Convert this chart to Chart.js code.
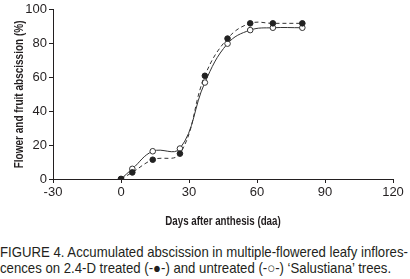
<!DOCTYPE html>
<html>
<head>
<meta charset="utf-8">
<script src="https://cdn.jsdelivr.net/npm/chart.js@4"></script>
<style>
  body { margin: 0; background: #fff; width: 410px; height: 279px; overflow: hidden; }
  #wrap { position: absolute; left: 0; top: 0; width: 410px; height: 235px; }
  #caption {
    position: absolute; left: 0; top: 245px;
    font-family: "Liberation Sans", Arial, sans-serif;
    font-size: 14.5px; line-height: 15.5px; color: #231f20; white-space: nowrap;
    transform-origin: 0 0;
  }
</style>
</head>
<body>
<div id="wrap"><canvas id="chart"></canvas></div>
<div id="caption">FIGURE 4. Accumulated abscission in multiple-flowered leafy inflores-<br>cences on 2.4-D treated (-●-) and untreated (-○-) ‘Salustiana’ trees.</div>
<script>
var days = [0, 5, 14, 26, 37, 47, 57, 67, 80];
var treated = [0, 3.9, 11.4, 15, 61, 83, 92, 92, 92];
var untreated = [0, 6, 16.4, 18, 57, 80, 88, 89.4, 89.4];
var xTicks = [-30, 0, 30, 60, 90, 120];
var yTicks = [0, 20, 40, 60, 80, 100];
var xTitle = "Days after anthesis (daa)";
var yTitle = "Flower and fruit abscission (%)";

var fnt = "'Liberation Sans', Arial, sans-serif";
var ink = "#231f20";

// squeeze the caption to the page width (the original uses a condensed face)
var cap = document.getElementById("caption");
cap.style.transform = "scaleX(" + (408 / cap.offsetWidth) + ")";

function pts(vals) {
  return days.map(function(d, i) {
    return { x: d, y: vals[i] };
  });
}

// axis titles drawn narrow, like the condensed bold of the figure
var narrowTitles = {
  id: "narrowTitles",
  afterDraw: function(chart) {
    var c = chart.ctx;
    var a = chart.chartArea;
    c.save();
    c.fillStyle = ink;
    c.font = "bold 12.5px " + fnt;
    c.textAlign = "center";
    c.textBaseline = "middle";
    c.save();
    c.translate((a.left + a.right) / 2, 222);
    c.scale(0.78, 1);
    c.fillText(xTitle, 0, 0);
    c.restore();
    c.save();
    c.translate(20, (a.top + a.bottom) / 2);
    c.rotate(-Math.PI / 2);
    c.scale(0.8, 1);
    c.fillText(yTitle, 0, 0);
    c.restore();
    c.restore();
  }
};

var ctx = document.getElementById("chart").getContext("2d");
var chart = new Chart(ctx, {
  type: "line",
  data: {
    datasets: [
      {
        label: "2.4-D treated",
        data: pts(treated),
        borderColor: "#333",
        borderWidth: 1,
        borderDash: [4, 3],
        backgroundColor: "#222",
        pointBorderColor: "#222",
        pointBorderWidth: 1,
        pointRadius: 2.8,
        tension: 0.4
      },
      {
        label: "untreated",
        data: pts(untreated),
        borderColor: "#333",
        borderWidth: 1,
        backgroundColor: "#fff",
        pointBorderColor: "#333",
        pointBorderWidth: 1,
        pointRadius: 2.8,
        tension: 0.4
      }
    ]
  },
  options: {
    responsive: true,
    maintainAspectRatio: false,
    animation: false,
    layout: { padding: { left: 0, right: 17, top: 0, bottom: 0 } },
    plugins: { legend: { display: false }, tooltip: { enabled: false } },
    scales: {
      x: {
        type: "linear",
        min: -30,
        max: 120,
        afterBuildTicks: function(scale) {
          scale.ticks = xTicks.map(function(v) { return { value: v }; });
        },
        afterFit: function(scale) { scale.height = 56; },
        grid: { display: true, drawOnChartArea: false, tickLength: 4, color: ink },
        border: { display: true, color: ink, width: 1 },
        ticks: { color: ink, padding: 2, maxRotation: 0, font: { family: fnt, size: 13 } },
        title: { display: false }
      },
      y: {
        min: 0,
        max: 100,
        afterBuildTicks: function(scale) {
          scale.ticks = yTicks.map(function(v) { return { value: v }; });
        },
        afterFit: function(scale) { scale.width = 53; },
        grid: { display: true, drawOnChartArea: false, tickLength: 4, color: ink },
        border: { display: true, color: ink, width: 1 },
        ticks: { color: ink, padding: 2, font: { family: fnt, size: 13 } },
        title: { display: false }
      }
    }
  },
  plugins: [narrowTitles]
});
</script>
</body>
</html>
